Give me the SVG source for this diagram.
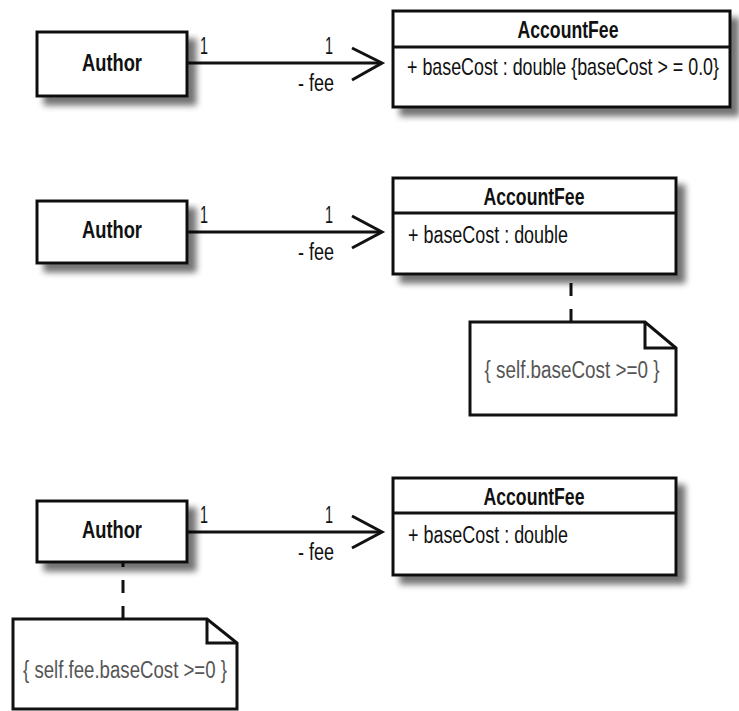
<svg xmlns="http://www.w3.org/2000/svg" width="739" height="711" viewBox="0 0 739 711">
<defs>
<filter id="sh" x="-10%" y="-10%" width="130%" height="140%">
<feGaussianBlur in="SourceAlpha" stdDeviation="3"/>
<feOffset dx="8" dy="8" result="b"/>
<feComponentTransfer in="b" result="s"><feFuncA type="linear" slope="0.55"/></feComponentTransfer>
<feMerge><feMergeNode in="s"/><feMergeNode in="SourceGraphic"/></feMerge>
</filter>
</defs>
<style>
.box{fill:#fff;stroke:#111;stroke-width:3}
.sep{stroke:#111;stroke-width:3}
.note{fill:#fff;stroke:#111;stroke-width:3;stroke-linejoin:miter}
.t{font-family:"Liberation Sans Narrow","Liberation Sans",Arial,sans-serif;fill:#111}
.b{font-size:24px;font-weight:bold;text-anchor:middle}
.r{font-size:23px}
.n{font-size:23px;fill:#555;text-anchor:middle}
.ln{stroke:#111;stroke-width:3;fill:none}
.dash{stroke:#111;stroke-width:3;stroke-dasharray:13 13}
</style>
<rect width="739" height="711" fill="#fff"/>

<g id="connectors">
<line class="ln" x1="187" y1="63" x2="381" y2="63"/>
<polyline class="ln" points="352,48 382,63 352,80"/>
<line class="ln" x1="187" y1="232" x2="381" y2="232"/>
<polyline class="ln" points="352,216 382,232 352,248"/>
<line class="ln" x1="187" y1="532" x2="381" y2="532"/>
<polyline class="ln" points="352,516 382,532 352,548"/>
<line class="dash" x1="571" y1="322" x2="571" y2="275"/>
<line class="dash" x1="123" y1="619" x2="123" y2="563"/>
<text class="t r" x="200" y="54" textLength="8" lengthAdjust="spacingAndGlyphs">1</text>
<text class="t r" x="325" y="54" textLength="8" lengthAdjust="spacingAndGlyphs">1</text>
<text class="t r" x="298" y="91" textLength="36" lengthAdjust="spacingAndGlyphs">- fee</text>
<text class="t r" x="200" y="223" textLength="8" lengthAdjust="spacingAndGlyphs">1</text>
<text class="t r" x="325" y="223" textLength="8" lengthAdjust="spacingAndGlyphs">1</text>
<text class="t r" x="298" y="260" textLength="36" lengthAdjust="spacingAndGlyphs">- fee</text>
<text class="t r" x="200" y="523" textLength="8" lengthAdjust="spacingAndGlyphs">1</text>
<text class="t r" x="325" y="523" textLength="8" lengthAdjust="spacingAndGlyphs">1</text>
<text class="t r" x="298" y="560" textLength="36" lengthAdjust="spacingAndGlyphs">- fee</text>
</g>

<g id="author1">
<rect class="box" x="37" y="32" width="150" height="64" filter="url(#sh)"/>
<text class="t b" x="112" y="71" textLength="60" lengthAdjust="spacingAndGlyphs">Author</text>
</g>
<g id="accountfee1">
<rect class="box" x="393" y="11" width="337" height="96" filter="url(#sh)"/>
<line class="sep" x1="393" y1="47" x2="730" y2="47"/>
<text class="t b" x="568" y="38" textLength="101" lengthAdjust="spacingAndGlyphs">AccountFee</text>
<text class="t r" transform="translate(407,75) scale(0.8,1)" x="0" y="0" textLength="390" lengthAdjust="spacingAndGlyphs">+ baseCost : double {baseCost &gt; = 0.0}</text>
</g>

<g id="author2">
<rect class="box" x="37" y="201" width="150" height="62" filter="url(#sh)"/>
<text class="t b" x="112" y="238" textLength="60" lengthAdjust="spacingAndGlyphs">Author</text>
</g>
<g id="accountfee2">
<rect class="box" x="393" y="178" width="283" height="96" filter="url(#sh)"/>
<line class="sep" x1="393" y1="213" x2="676" y2="213"/>
<text class="t b" x="534" y="205" textLength="101" lengthAdjust="spacingAndGlyphs">AccountFee</text>
<text class="t r" x="408" y="243" textLength="160" lengthAdjust="spacingAndGlyphs">+ baseCost : double</text>
</g>
<g id="note2">
<polygon class="note" points="470,322 645,322 676,348 676,415 470,415"/>
<polyline class="ln" points="645,322 645,348 676,348"/>
<text class="t n" x="572" y="378" textLength="175" lengthAdjust="spacingAndGlyphs">{ self.baseCost &gt;=0 }</text>
</g>

<g id="author3">
<rect class="box" x="37" y="501" width="150" height="61" filter="url(#sh)"/>
<text class="t b" x="112" y="538" textLength="60" lengthAdjust="spacingAndGlyphs">Author</text>
</g>
<g id="accountfee3">
<rect class="box" x="393" y="478" width="283" height="97" filter="url(#sh)"/>
<line class="sep" x1="393" y1="513" x2="676" y2="513"/>
<text class="t b" x="534" y="505" textLength="101" lengthAdjust="spacingAndGlyphs">AccountFee</text>
<text class="t r" x="408" y="543" textLength="160" lengthAdjust="spacingAndGlyphs">+ baseCost : double</text>
</g>
<g id="note3">
<polygon class="note" points="13,619 207,619 237,643 237,709 13,709"/>
<polyline class="ln" points="207,619 207,643 237,643"/>
<text class="t n" x="125" y="678" textLength="204" lengthAdjust="spacingAndGlyphs">{ self.fee.baseCost &gt;=0 }</text>
</g>
</svg>
